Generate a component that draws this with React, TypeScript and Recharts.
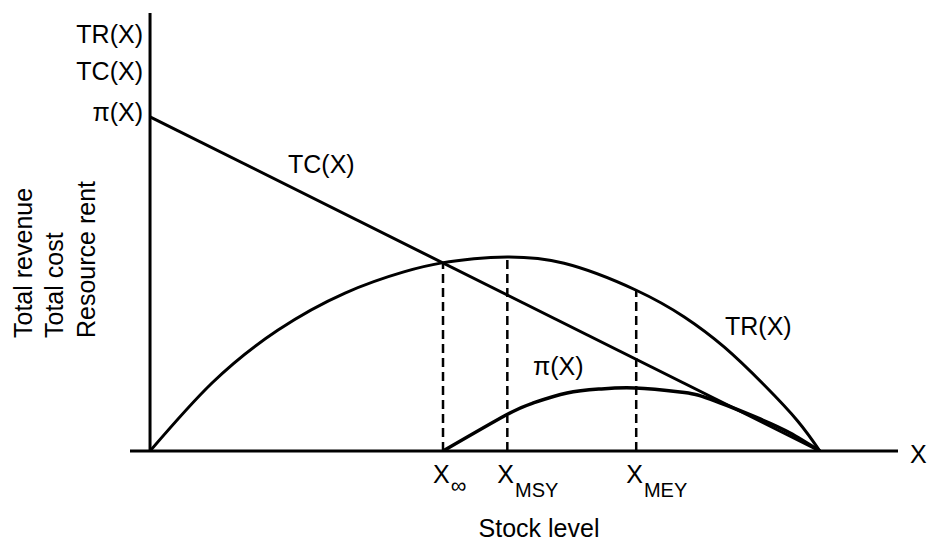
import React from 'react';
import { LineChart, Line, XAxis, YAxis, ReferenceLine, Customized } from 'recharts';

// Total revenue TR(X)
const trX = [0, 9.28, 19.17, 29.2, 38, 43.7, 48.5, 53.5, 62, 72.8, 80, 86, 92, 97, 100.3];
const trY = [0, 15.53, 27.63, 36.07, 40.9, 42.95, 43.9, 44.3, 42.86, 36.7, 30.6, 23.7, 15.0, 6.8, 0];

// Total cost TC(X)
const tcX = [0, 100.3];
const tcY = [76.3, 0];

// Resource rent pi(X)
const piX = [43.87, 53.31, 57.35, 62.44, 67.39, 72.63, 79.36, 83.86, 91.35, 95.84, 100.3];
const piY = [0, 8.22, 10.96, 13.24, 14.16, 14.38, 13.47, 11.87, 7.31, 4.11, 0];

// Key stock levels and the heights of their dashed guides
const keyLevels = [43.87, 53.5, 72.8];
const keyTops = [42.95, 44.3, 36.7];
const keyMain = ['X', 'X', 'X'];
const keySubs = ['\u221E', 'MSY', 'MEY'];

const toRows = (xs: number[], ys: number[]) => xs.map((x, i) => ({ x, y: ys[i] }));
const trData = toRows(trX, trY);
const tcData = toRows(tcX, tcY);
const piData = toRows(piX, piY);

const FONT = '"Liberation Sans", Arial, Helvetica, sans-serif';
const INK = '#000';

const StockTick = (props: any) => {
  const { x, y, index } = props;
  const sub = keySubs[index];
  const isInf = sub === '\u221E';
  return (
    <text x={x - 10} y={y + 32} fontFamily={FONT} fontSize={25} fill={INK} textAnchor="start">
      {keyMain[index]}
      <tspan fontSize={isInf ? 22 : 20} dy={isInf ? 10 : 14} dx={1}>{sub}</tspan>
    </text>
  );
};

const Annotations = () => (
  <g fontFamily={FONT} fill={INK}>
    <text x={143} y={43} fontSize={25} textAnchor="end">TR(X)</text>
    <text x={143} y={80} fontSize={25} textAnchor="end">TC(X)</text>
    <text x={143} y={121} fontSize={25} textAnchor="end">{'\u03C0(X)'}</text>
    <text transform="translate(32,338) rotate(-90)" fontSize={25}>Total revenue</text>
    <text transform="translate(63,338) rotate(-90)" fontSize={25}>Total cost</text>
    <text transform="translate(95,338) rotate(-90)" fontSize={25}>Resource rent</text>
    <text x={288} y={173} fontSize={25}>TC(X)</text>
    <text x={533} y={375} fontSize={25}>{'\u03C0(X)'}</text>
    <text x={725} y={335} fontSize={25}>TR(X)</text>
    <text x={910} y={463} fontSize={25}>X</text>
    <text x={539} y={537} fontSize={25} textAnchor="middle">Stock level</text>
  </g>
);

export default function App() {
  return (
    <div style={{ position: 'absolute', left: 0, top: 0, background: '#fff' }}>
      <LineChart width={929} height={541} margin={{ top: 13, right: 31, left: 130, bottom: 0 }}>
        <XAxis
          type="number"
          dataKey="x"
          domain={[-3, 112]}
          allowDataOverflow
          ticks={keyLevels}
          interval={0}
          tick={<StockTick />}
          tickLine={false}
          tickSize={0}
          tickMargin={0}
          height={90}
          axisLine={{ stroke: INK, strokeWidth: 3 }}
        />
        <YAxis hide type="number" domain={[0, 100]} allowDataOverflow />
        <ReferenceLine x={0} stroke={INK} strokeWidth={3} ifOverflow="visible" />
        {keyLevels.map((lv, i) => (
          <ReferenceLine
            key={i}
            segment={[{ x: lv, y: 0 }, { x: lv, y: keyTops[i] }]}
            stroke={INK}
            strokeWidth={2.5}
            strokeDasharray="9 5"
            ifOverflow="visible"
          />
        ))}
        <Line data={tcData} dataKey="y" type="linear" stroke={INK} strokeWidth={3} dot={false} isAnimationActive={false} />
        <Line data={trData} dataKey="y" type="natural" stroke={INK} strokeWidth={3} dot={false} isAnimationActive={false} />
        <Line data={piData} dataKey="y" type="natural" stroke={INK} strokeWidth={3.5} dot={false} isAnimationActive={false} />
        <Customized component={Annotations} />
      </LineChart>
    </div>
  );
}
